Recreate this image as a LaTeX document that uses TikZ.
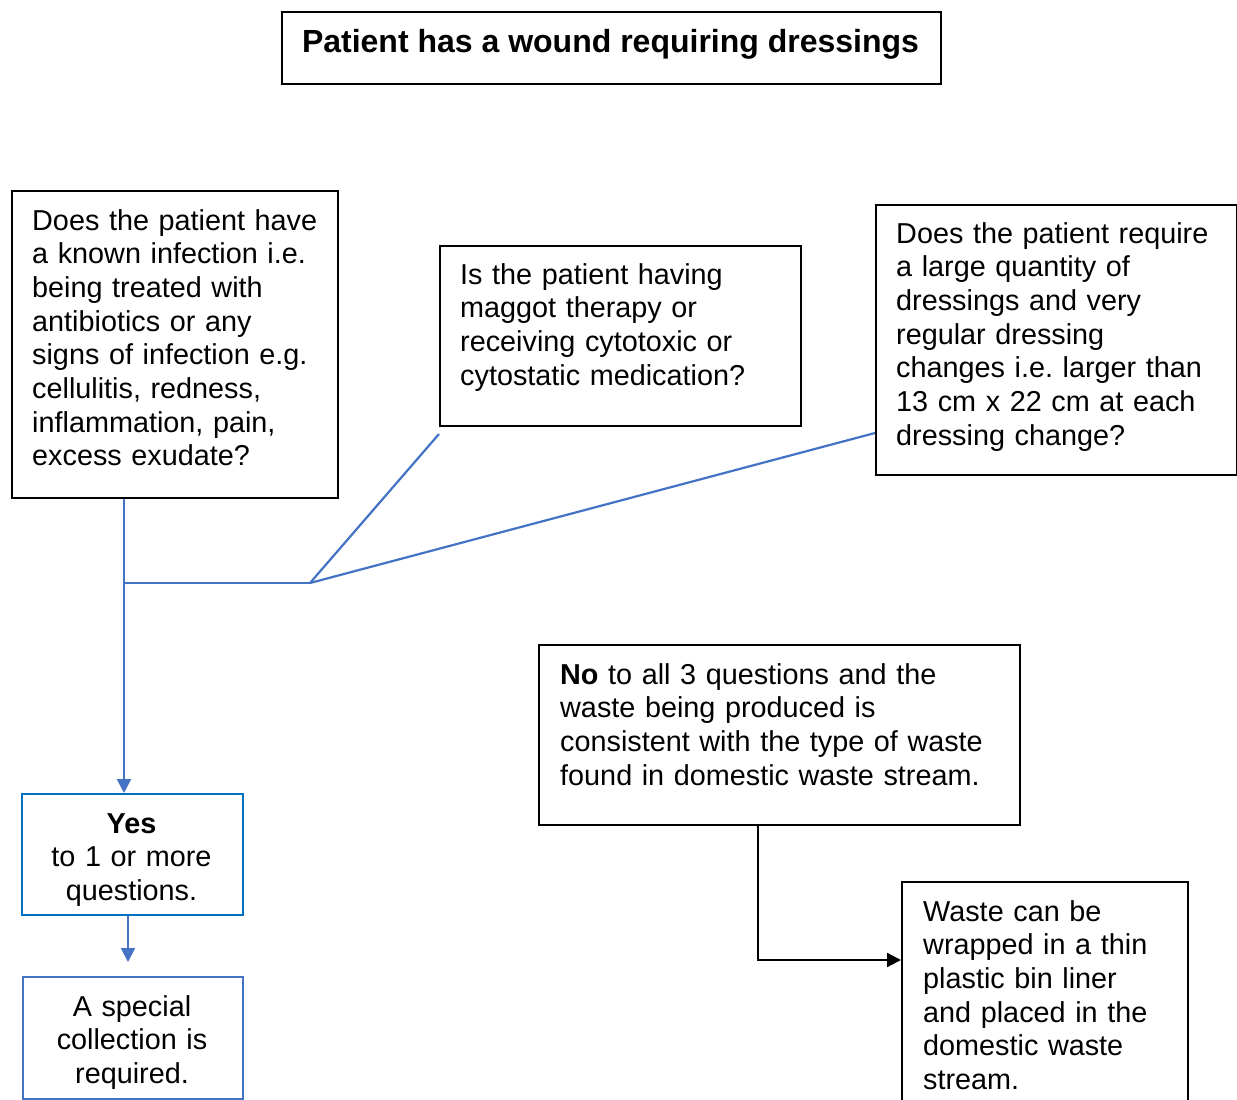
\documentclass[tikz,border=0pt]{standalone}
\usepackage{fontspec}
\setmainfont{Liberation Sans}
\usetikzlibrary{arrows.meta}
\definecolor{lblue}{HTML}{4472C4}
\definecolor{dblue}{HTML}{0070C0}
\frenchspacing
\begin{document}
\begin{tikzpicture}[x=1pt,y=-1pt,
  box/.style={draw=black,line width=2pt,inner sep=0pt,anchor=north west},
  txt/.style={inner sep=0pt,anchor=base west,align=left,text width=600pt,
    font=\fontsize{28.8}{33.7}\selectfont\frenchspacing},
  ctxt/.style={inner sep=0pt,anchor=base,align=center,text width=220pt,
    font=\fontsize{28.8}{33.7}\selectfont\frenchspacing},
  bline/.style={draw=lblue,line width=2.2pt},
  barrow/.style={bline,-{Triangle[length=14pt,width=14pt]}},
  karrow/.style={draw=black,line width=2.2pt,-{Triangle[length=14pt,width=14pt]}}]
\useasboundingbox (0,0) rectangle (1237,1100);
\clip (0,0) rectangle (1237,1100);
\fill[white] (0,0) rectangle (1237,1100);

% boxes
\node[box,minimum width=659pt,minimum height=72pt] (title) at (281,11) {};
\node[box,minimum width=326pt,minimum height=307pt] (b1) at (11,190) {};
\node[box,minimum width=361pt,minimum height=180pt] (b2) at (439,245) {};
\node[box,minimum width=361pt,minimum height=270pt] (b3) at (875,204) {};
\node[box,minimum width=481pt,minimum height=180pt] (no) at (538,644) {};
\node[box,minimum width=286pt,minimum height=240pt] (waste) at (901,881) {};
\node[box,draw=dblue,minimum width=221pt,minimum height=121pt] (yes) at (21,793) {};
\node[box,draw=lblue,minimum width=220pt,minimum height=122pt] (spec) at (22,976) {};

% texts
\node[inner sep=0pt,anchor=base,font=\fontsize{32}{36}\selectfont\bfseries] (titletxt) at (610.5,52) {Patient has a wound requiring dressings};
\node[txt] (t1) at (32,230) {Does the patient have\\a known infection i.e.\\being treated with\\antibiotics or any\\signs of infection e.g.\\cellulitis, redness,\\inflammation, pain,\\excess exudate?};
\node[txt] (t2) at (460,284) {Is the patient having\\maggot therapy or\\receiving cytotoxic or\\cytostatic medication?};
\node[txt] (t3) at (896,243) {Does the patient require\\a large quantity of\\dressings and very\\regular dressing\\changes i.e. larger than\\13 cm x 22 cm at each\\dressing change?};
\node[txt] (tno) at (560,684) {\textbf{No} to all 3 questions and the\\waste being produced is\\consistent with the type of waste\\found in domestic waste stream.};
\node[txt] (tw) at (923,921) {Waste can be\\wrapped in a thin\\plastic bin liner\\and placed in the\\domestic waste\\stream.};
\node[ctxt] (ty) at (131.5,833) {\textbf{Yes}\\to 1 or more\\questions.};
\node[ctxt] (ts) at (132,1016) {A special\\collection is\\required.};

% connectors
\coordinate (j) at (124,583);
\coordinate (k) at (310,583);
\coordinate (e2) at (439,434);
\coordinate (e3) at (875,433);
\draw[barrow] (j |- b1.south) -- (j |- yes.north);
\draw[bline] (j) -- (k);
\draw[bline] (k) -- (e2);
\draw[bline] (k) -- (e3);
\coordinate (ya) at (128,914);
\draw[barrow] (ya |- yes.south) -- (128,962);
\coordinate (nb) at (758,960);
\draw[karrow] (nb |- no.south) -- (nb) -- (nb -| waste.west);
\end{tikzpicture}
\end{document}
